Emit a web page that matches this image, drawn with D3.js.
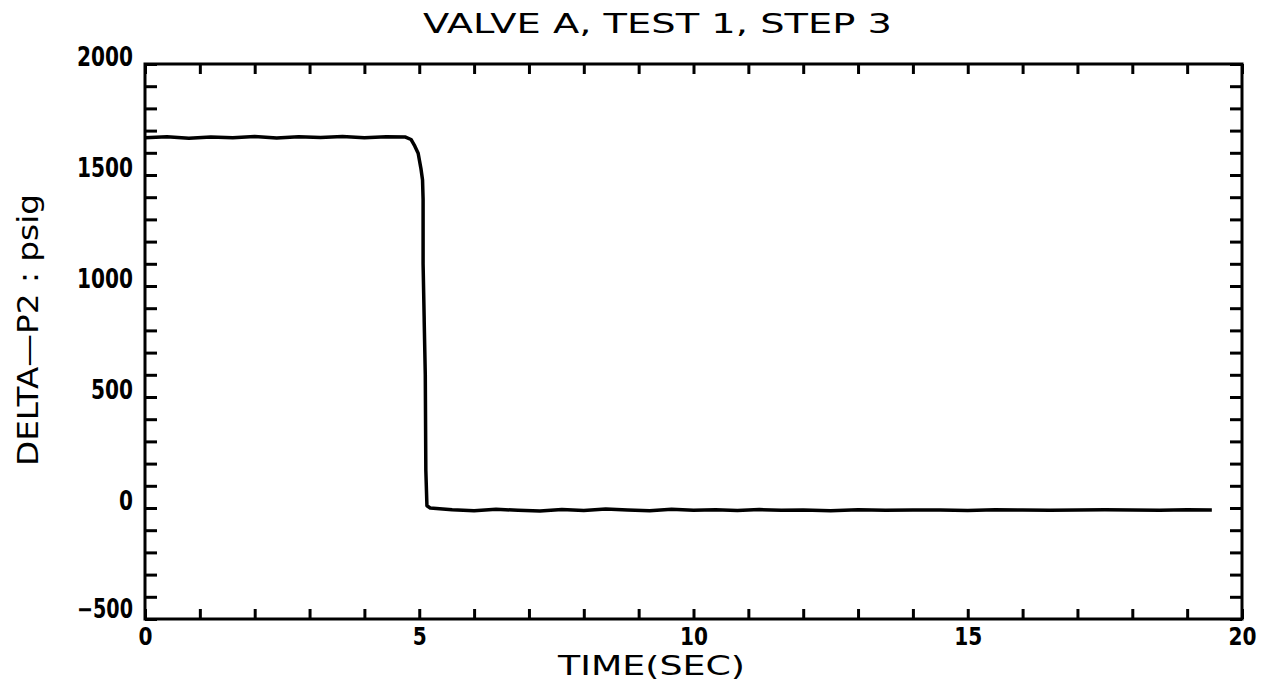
<!DOCTYPE html>
<html>
<head>
<meta charset="utf-8">
<script src="https://cdn.jsdelivr.net/npm/d3@7"></script>
<style>
  body { margin: 0; background: #fff; }
  text { font-family: "DejaVu Sans", "Liberation Sans", sans-serif; fill: #000; }
</style>
</head>
<body>
<div id="chart-area"></div>
<script>

var total_width = 1272;
var total_height = 690;

// time (sec) and delta-P2 (psig)
var time = [0, 0.4, 0.8, 1.2, 1.6, 2.0, 2.4, 2.8, 3.2, 3.6, 4.0, 4.4, 4.75,
            4.85, 4.92, 4.98, 5.03, 5.06, 5.07, 5.07, 5.09, 5.09, 5.11, 5.12, 5.14, 5.2,
            5.6, 6.0, 6.4, 6.8, 7.2, 7.6, 8.0, 8.4, 8.8, 9.2, 9.6, 10.0, 10.4, 10.8,
            11.2, 11.6, 12.0, 12.5, 13.0, 13.5, 14.0, 14.5, 15.0, 15.5, 16.0, 16.5,
            17.0, 17.5, 18.0, 18.5, 19.0, 19.45];
var dp2 = [1668, 1672, 1666, 1671, 1668, 1673, 1667, 1672, 1669, 1673, 1668, 1672, 1671,
           1660, 1630, 1598, 1530, 1477, 1390, 1100, 850, 845, 600, 170, 10, 0,
           -8, -12, -6, -10, -13, -7, -11, -5, -9, -12, -6, -10, -8, -11,
           -7, -10, -9, -12, -8, -10, -9, -9, -11, -8, -9, -10, -9, -8, -9, -10, -8, -9];

var xMajor = [0, 5, 10, 15, 20];
var yMajor = [-500, 0, 500, 1000, 1500, 2000];

var svg = d3.select('#chart-area').append('svg')
            .attr("width", total_width)
            .attr("height", total_height);

var margin = {top: 64, right: 30, bottom: 71, left: 145};
var width = total_width - margin.left - margin.right;
var height = total_height - margin.top - margin.bottom;

var chart = svg.append('g')
               .attr("transform", "translate(" + margin.left + "," + margin.top + ")");

var x = d3.scaleLinear().domain([0, 20]).range([0, width]);
var y = d3.scaleLinear().domain([-500, 2000]).range([height, 0]);

var xMinor = d3.range(0, 21, 1);
var yMinor = d3.range(-500, 2001, 100);

// inward tick marks on all four sides
function ticks(g) {
  g.selectAll("path").remove();
  g.selectAll("line").attr("stroke", "#000").attr("stroke-width", 3);
}
chart.append('g').attr("transform", "translate(0," + height + ")")
     .call(d3.axisBottom(x).tickValues(xMinor).tickSize(-10).tickFormat(""))
     .call(ticks);
chart.append('g')
     .call(d3.axisTop(x).tickValues(xMinor).tickSize(-10).tickFormat(""))
     .call(ticks);
chart.append('g')
     .call(d3.axisLeft(y).tickValues(yMinor).tickSize(-12).tickFormat(""))
     .call(ticks);
chart.append('g').attr("transform", "translate(" + width + ",0)")
     .call(d3.axisRight(y).tickValues(yMinor).tickSize(-12).tickFormat(""))
     .call(ticks);

// frame
chart.append('rect')
     .attr("width", width).attr("height", height)
     .attr("fill", "none").attr("stroke", "#000").attr("stroke-width", 3);

// tick labels: tall, narrow plotter digits
function labelStyle(sel, size) {
  sel.selectAll("text")
     .attr("font-size", size + "px").attr("font-weight", "bold")
     .attr("lengthAdjust", "spacingAndGlyphs")
     .attr("textLength", function() { return 14 * this.textContent.length; })
     .style("font-family", "DejaVu Sans, sans-serif");
}

var xl = chart.append('g').attr("transform", "translate(0," + height + ")")
     .call(d3.axisBottom(x).tickValues(xMajor).tickSize(0).tickPadding(9).tickFormat(d3.format("d")));
xl.select("path").remove();
xl.call(labelStyle, 24);

var yl = chart.append('g')
     .call(d3.axisLeft(y).tickValues(yMajor).tickSize(0).tickPadding(12)
             .tickFormat(function(d) { return d < 0 ? "\u2212" + Math.abs(d) : d; }));
yl.select("path").remove();
yl.call(labelStyle, 26);
yl.selectAll("text").attr("dy", function(d) { return d < 0 ? "-0.05em" : "0.05em"; });

// the trace
var lineFunction = d3.line()
           .x(function(d, i) { return x(time[i]); })
           .y(function(d) { return y(d); });

chart.append('path')
     .datum(dp2)
     .attr("d", lineFunction)
     .attr("fill", "none")
     .attr("stroke", "#000")
     .attr("stroke-width", 3.5)
     .attr("stroke-linejoin", "round");

// titles
svg.append('text')
   .attr("x", 423).attr("y", 33)
   .attr("font-size", "27px")
   .attr("textLength", 469).attr("lengthAdjust", "spacingAndGlyphs")
   .text("VALVE  A,  TEST  1,  STEP  3");

svg.append('text')
   .attr("x", 558).attr("y", 675)
   .attr("font-size", "26px")
   .attr("textLength", 187).attr("lengthAdjust", "spacingAndGlyphs")
   .text("TIME(SEC)");

svg.append('text')
   .attr("transform", "translate(38,466) rotate(-90)")
   .attr("font-size", "29px")
   .attr("textLength", 272).attr("lengthAdjust", "spacingAndGlyphs")
   .text("DELTA\u2014P2 : psig");

</script>
</body>
</html>
